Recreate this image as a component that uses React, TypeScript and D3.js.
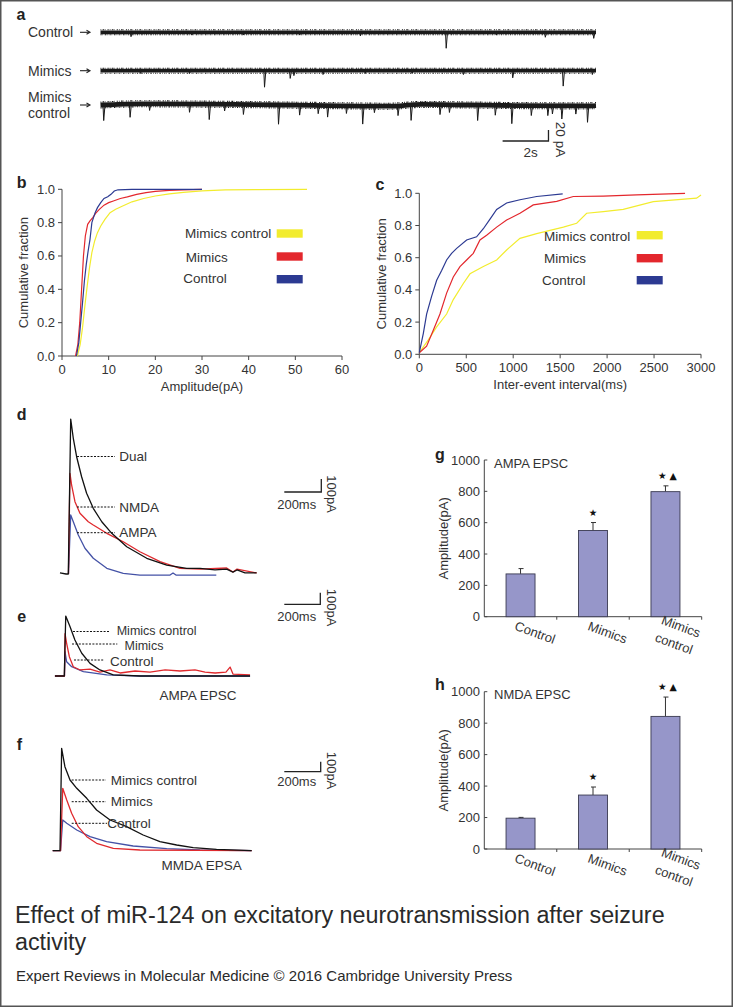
import React from 'react';
import * as d3 from 'd3';

const FONT = '"Liberation Sans", Arial, Helvetica, sans-serif';
const TXT = '#333';
const AX = '#444';
const C_YEL = '#f2ec2e';
const C_RED = '#e3272d';
const C_BLUE = '#2c3a92';
const T_RED = '#e02a2e';
const T_BLUE = '#4452a6';
const BAR = '#9696c9';

// ---------- Panel a : spontaneous EPSC traces ----------
const aGroups = ['Control', 'Mimics', 'Mimics control'];
const aDurationS = 21.6;
const ctrlEvT = [1.33, 3.98, 6.23, 8.68, 11.33, 15.07, 17.25, 19.39, 21.5];
const ctrlEvA = [8, 5, 5, 5, 6.6, 29, 5, 9, 11];
const mimEvT = [1.74, 3.88, 7.15, 8.27, 8.43, 9.7, 11.54, 13.58, 15.82, 17.97, 20.17, 21.44];
const mimEvA = [5, 5, 30, 14, 9, 7, 5, 5, 7, 13, 28, 7];
const mcEvT = [0.14, 1.29, 2.14, 3.88, 4.74, 5.41, 6.23, 7.76, 8.68, 9.49, 9.9, 10.72, 11.43, 11.94, 12.97, 13.54, 14.8, 15.21, 16.44, 17.21, 17.93, 18.78, 19.5, 19.7, 20.11, 20.72, 21.23];
const mcEvA = [28.5, 24, 12, 15, 28, 12, 18, 35, 18, 15, 21, 14, 33, 12, 18, 28, 18, 14, 28, 18, 33, 18, 18, 15, 24, 15, 30];
const mcDriftT = [0, 1.74, 4.8, 7.86, 9.9, 12.56, 13.99, 16.03, 18.07, 21.13, 21.6];
const mcDriftA = [0, 2.2, 1.5, 0, -1, -2.2, 1, 0, -1, -1.6, -1];

// ---------- Panel b : amplitude CDF ----------
const bCtrlX = [3.1, 3.6, 4.0, 4.4, 4.8, 5.2, 5.6, 6.0, 6.4, 7.1, 7.6, 8.3, 9.0, 9.8, 10.5, 11.2, 12, 15, 30];
const bCtrlY = [0, 0.08, 0.2, 0.32, 0.45, 0.55, 0.63, 0.7, 0.8, 0.86, 0.89, 0.92, 0.945, 0.955, 0.97, 0.99, 0.997, 1, 1];
const bMimX = [2.9, 3.4, 3.8, 4.2, 4.6, 5.0, 5.5, 6.0, 6.6, 7.2, 8, 9, 10, 11, 12.5, 14, 16, 18, 20, 23, 26, 30];
const bMimY = [0, 0.07, 0.2, 0.4, 0.6, 0.72, 0.79, 0.81, 0.83, 0.855, 0.88, 0.905, 0.92, 0.93, 0.945, 0.955, 0.97, 0.98, 0.988, 0.994, 0.997, 1.0];
const bMcX = [3.3, 3.9, 4.4, 4.9, 5.4, 5.9, 6.4, 7.0, 7.6, 8.3, 9.2, 10.3, 11.5, 13, 15, 17.5, 20, 23, 26, 30, 35, 42, 52.5];
const bMcY = [0, 0.07, 0.17, 0.3, 0.42, 0.53, 0.62, 0.69, 0.74, 0.78, 0.82, 0.86, 0.88, 0.9, 0.925, 0.945, 0.96, 0.972, 0.982, 0.99, 0.996, 0.998, 1.0];
const bXTicks = [0, 10, 20, 30, 40, 50, 60];
const fracTicks = [0, 0.2, 0.4, 0.6, 0.8, 1.0];

// ---------- Panel c : inter-event interval CDF ----------
const cCtrlX = [0, 43, 78, 131, 185, 238, 291, 344, 398, 504, 610, 682, 753, 824, 930, 1072, 1250, 1527];
const cCtrlY = [0.01, 0.13, 0.25, 0.36, 0.46, 0.52, 0.586, 0.627, 0.658, 0.71, 0.73, 0.78, 0.84, 0.9, 0.94, 0.96, 0.98, 0.996];
const cMimX = [0, 78, 149, 220, 291, 362, 433, 504, 575, 646, 717, 824, 930, 1072, 1214, 1463, 1640, 1960, 2314, 2830];
const cMimY = [0.01, 0.05, 0.15, 0.25, 0.38, 0.48, 0.545, 0.586, 0.627, 0.71, 0.74, 0.79, 0.834, 0.876, 0.928, 0.95, 0.98, 0.983, 0.99, 1.0];
const cMcX = [0, 96, 185, 291, 362, 469, 540, 682, 824, 930, 1072, 1250, 1534, 1676, 1782, 1960, 2172, 2492, 2953, 3000];
const cMcY = [0.01, 0.09, 0.17, 0.25, 0.34, 0.44, 0.5, 0.545, 0.586, 0.648, 0.72, 0.75, 0.79, 0.814, 0.876, 0.886, 0.9, 0.948, 0.97, 0.99];
const cXTicks = [0, 500, 1000, 1500, 2000, 2500, 3000];

// ---------- Panel d : evoked EPSCs (ms, pA) ----------
const dDualT = [-45, -12, 0, 13, 27, 45, 72, 99, 135, 181, 235, 316, 424, 532, 640, 712, 793, 856, 890, 912, 955, 1018];
const dDualI = [8, 0, 0, 1192, 1044, 902, 748, 621, 505, 402, 313, 210, 121, 69, 44, 44, 31, 38, 15, 31, 8, 8];
const dNmdaT = [1, 9, 18, 36, 63, 108, 135, 208, 297, 387, 496, 604, 712, 856, 890, 912, 1018];
const dNmdaI = [0, 774, 684, 556, 467, 402, 377, 313, 248, 171, 95, 44, 38, 46, 15, 38, 8];
const dAmpaT = [1, 13, 27, 54, 90, 135, 208, 297, 387, 550, 566, 582, 800];
const dAmpaI = [0, 454, 402, 300, 198, 121, 44, 5, -8, -8, 8, -8, -8];

// ---------- Panel e : AMPA EPSC ----------
const eMcT = [-52, 0, 8, 32, 59, 97, 143, 198, 272, 421, 1032];
const eMcI = [0, 0, 517, 425, 310, 196, 109, 52, 9, 0, 0];
const eMimT = [-52, 1, 4, 13, 28, 50, 87, 143, 198, 254, 310, 393, 476, 560, 643, 726, 782, 838, 898, 921, 937, 1032];
const eMimI = [0, 0, 365, 282, 166, 80, 52, 60, 34, 52, 26, 43, 34, 52, 43, 52, 34, 26, 34, 77, 17, 9];
const eCtrlT = [-52, 1, 4, 13, 41, 106, 236, 421, 1032];
const eCtrlI = [0, 0, 209, 123, 80, 37, 9, 0, 0];

// ---------- Panel f : NMDA EPSC ----------
const fMcT = [-40, 0, 9, 27, 55, 92, 147, 201, 275, 366, 457, 549, 641, 732, 860, 1053];
const fMcI = [0, 0, 1024, 840, 707, 624, 524, 407, 307, 240, 157, 90, 57, 30, 14, 0];
const fMimT = [-40, 3, 15, 37, 64, 100, 147, 201, 293, 439, 1053];
const fMimI = [0, 0, 624, 507, 374, 240, 140, 74, 24, 7, 0];
const fCtrlT = [-40, 3, 15, 37, 92, 165, 256, 402, 586, 769, 1053];
const fCtrlI = [0, 0, 307, 274, 207, 140, 90, 47, 20, 7, 0];

// ---------- Panels g, h : bar charts ----------
const barGroups = ['Control', 'Mimics', 'Mimics control'];
const ampaMean = [273, 550, 798];
const ampaErr = [34, 51, 37];
const nmdaMean = [196, 343, 843];
const nmdaErr = [5, 51, 123];
const ampTicks = [0, 200, 400, 600, 800, 1000];
const ampaMarks = ['', '★', '★ ▲'];
const nmdaMarks = ['', '★', '★ ▲'];

function linePath(xs: number[], ys: number[], sx: (v: number) => number, sy: (v: number) => number) {
  const idx = d3.range(xs.length);
  return d3.line<number>().x(i => sx(xs[i])).y(i => sy(ys[i]))(idx) || '';
}

function Txt(props: any) {
  const { children, ...rest } = props;
  return <text fontFamily={FONT} fill={TXT} {...rest}>{children}</text>;
}

function PanelLabel({ x, y, t }: { x: number; y: number; t: string }) {
  return <text x={x} y={y} fontFamily={FONT} fontWeight="bold" fontSize={16} fill="#222" textAnchor="middle">{t}</text>;
}

function TracesA() {
  const sx = d3.scaleLinear().domain([0, aDurationS]).range([100.5, 596]);
  const amp = d3.scaleLinear().domain([0, 20]).range([0, 11]);
  const bases = [32.3, 70.7, 105];
  const evT = [ctrlEvT, mimEvT, mcEvT];
  const evA = [ctrlEvA, mimEvA, mcEvA];
  const drift = d3.scaleLinear().domain(mcDriftT).range(mcDriftA);
  const widths = [3.8, 3.8, 4.8];
  return (
    <g>
      <PanelLabel x={21} y={20} t="a" />
      {aGroups.map((g, r) => {
        const base = bases[r];
        const off = (t: number) => (r === 2 ? -amp(drift(t)) : 0);
        const ts = r === 2 ? mcDriftT : [0, aDurationS];
        const mk = (dy: number) => d3.line<number>().x(t => sx(t)).y(t => base + off(t) + dy).curve(d3.curveMonotoneX)(ts) || '';
        return (
          <g key={g}>
            {r < 2 ? (
              <Txt x={28} y={base + 4.8} fontSize={14}>{g}</Txt>
            ) : (
              <g>
                <Txt x={28} y={base - 8 + 4.8} fontSize={14}>Mimics</Txt>
                <Txt x={28} y={base + 8 + 4.8} fontSize={14}>control</Txt>
              </g>
            )}
            <line x1={80} x2={89} y1={base} y2={base} stroke="#222" strokeWidth={1.1} />
            <path d={`M${86.5},${base - 2} L${90},${base} L${86.5},${base + 2}`} fill="none" stroke="#222" strokeWidth={1.1} />
            <path d={mk(0)} fill="none" stroke="#1a1a1a" strokeWidth={widths[r]} />
            <path d={mk(-widths[r] / 2 - 0.6)} fill="none" stroke="#1a1a1a" strokeWidth={1.1} strokeDasharray="0.8 1.3 1.7 0.7 0.5 2 1.2 1" />
            <path d={mk(widths[r] / 2 + 0.6)} fill="none" stroke="#1a1a1a" strokeWidth={1.1} strokeDasharray="1.1 0.9 0.6 1.7 1.5 1.2 0.7 1.4" />
            {evT[r].map((t, i) => {
              const x = sx(t);
              const y0 = base + off(t);
              const y1 = y0 + amp(evA[r][i]);
              return <path key={i} d={`M${x - 0.7},${y0} L${x},${y1} L${x + 1.3},${y0}`} fill="none" stroke="#1a1a1a" strokeWidth={1} />;
            })}
          </g>
        );
      })}
      {(() => {
        const x0 = 502.6;
        const x1 = x0 + (sx(2) - sx(0));
        const yb = 141;
        const yt = yb - amp(20);
        return (
          <g>
            <path d={`M${x0},${yb} H${x1} V${yt}`} fill="none" stroke="#222" strokeWidth={1.3} />
            <Txt x={530.6} y={156.5} fontSize={13.5} textAnchor="middle">2s</Txt>
            <Txt transform={`translate(556,139.5) rotate(90)`} fontSize={13.5} textAnchor="middle">20 pA</Txt>
          </g>
        );
      })()}
    </g>
  );
}

function CdfPanel(props: {
  label: string; lx: number; ly: number;
  x0: number; x1: number; yTop: number; yBot: number; xMax: number; xTicks: number[];
  series: { xs: number[]; ys: number[]; color: string }[];
  xTitle: string; yTitleX: number; legX: number[]; legY: number[]; swX: number; swY: number[];
}) {
  const sx = d3.scaleLinear().domain([0, props.xMax]).range([props.x0, props.x1]);
  const sy = d3.scaleLinear().domain([0, 1]).range([props.yBot, props.yTop]);
  const legNames = ['Mimics control', 'Mimics', 'Control'];
  const legColors = [C_YEL, C_RED, C_BLUE];
  return (
    <g>
      <PanelLabel x={props.lx} y={props.ly} t={props.label} />
      <path d={`M${props.x0},${props.yTop} V${props.yBot} H${props.x1}`} fill="none" stroke={AX} strokeWidth={1} />
      {fracTicks.map(v => (
        <g key={v}>
          <line x1={props.x0 - 4} x2={props.x0} y1={sy(v)} y2={sy(v)} stroke={AX} />
          <Txt x={props.x0 - 7} y={sy(v) + 4.5} fontSize={13} textAnchor="end">{v.toFixed(1)}</Txt>
        </g>
      ))}
      {props.xTicks.map(v => (
        <g key={v}>
          <line x1={sx(v)} x2={sx(v)} y1={props.yBot} y2={props.yBot + 4} stroke={AX} />
          <Txt x={sx(v)} y={props.yBot + 18} fontSize={13} textAnchor="middle">{v}</Txt>
        </g>
      ))}
      <Txt x={(props.x0 + props.x1) / 2} y={props.yBot + 35} fontSize={13} textAnchor="middle">{props.xTitle}</Txt>
      <Txt transform={`translate(${props.yTitleX},${(props.yTop + props.yBot) / 2}) rotate(-90)`} fontSize={13} textAnchor="middle" dy="0.35em">Cumulative fraction</Txt>
      {props.series.map((s, i) => (
        <path key={i} d={linePath(s.xs, s.ys, sx, sy)} fill="none" stroke={s.color} strokeWidth={1.2} />
      ))}
      {legNames.map((n, i) => (
        <g key={n}>
          <Txt x={props.legX[i]} y={props.legY[i]} fontSize={13.5}>{n}</Txt>
          <rect x={props.swX} y={props.swY[i]} width={26} height={8.4} fill={legColors[i]} />
        </g>
      ))}
    </g>
  );
}

function ScaleBar({ x0, yb, sx, sy, textY, rotY }: any) {
  const x1 = x0 + (sx(200) - sx(0));
  const yt = yb - (sy(0) - sy(100));
  return (
    <g>
      <path d={`M${x0},${yb} H${x1} V${yt}`} fill="none" stroke="#222" strokeWidth={1.3} />
      <Txt x={296.7} y={textY} fontSize={13} textAnchor="middle">200ms</Txt>
      <Txt transform={`translate(327,${rotY}) rotate(90)`} fontSize={13} textAnchor="middle">100pA</Txt>
    </g>
  );
}

function Dash({ x1, x2, y, label, lx, fs, ly }: any) {
  return (
    <g>
      <line x1={x1} x2={x2} y1={y} y2={y} stroke="#111" strokeWidth={1} strokeDasharray="2 1.4" />
      <Txt x={lx} y={(ly ?? y) + 4.5} fontSize={fs || 13.5}>{label}</Txt>
    </g>
  );
}

function EpscPanel(props: any) {
  const { onsetX, baseY, pxPer200, pxPer100, series, dashes, label, lx, ly, bar, sub } = props;
  const sx = d3.scaleLinear().domain([0, 200]).range([onsetX, onsetX + pxPer200]);
  const sy = d3.scaleLinear().domain([0, 100]).range([baseY, baseY - pxPer100]);
  return (
    <g>
      <PanelLabel x={lx} y={ly} t={label} />
      {series.map((s: any, i: number) => (
        <path key={i} d={linePath(s.t, s.i, sx, sy)} fill="none" stroke={s.color} strokeWidth={1.3} strokeLinejoin="round" />
      ))}
      {dashes.map((d: any, i: number) => <Dash key={i} {...d} />)}
      <ScaleBar x0={284.3} yb={bar.yb} sx={sx} sy={sy} textY={bar.textY} rotY={bar.rotY} />
      {sub && <Txt x={sub.x} y={sub.y} fontSize={13.5} textAnchor="middle">{sub.text}</Txt>}
    </g>
  );
}

function BarPanel(props: any) {
  const { yTop, yBot, mean, err, marks, title, label, ly, labelOffset } = props;
  const x0 = 484.3, x1 = 701.7;
  const sx = d3.scaleBand<string>().domain(barGroups).range([x0, x1]).paddingInner(0.6).paddingOuter(0.3);
  const sy = d3.scaleLinear().domain([0, 1000]).range([yBot, yTop]);
  const step = sx.step();
  return (
    <g>
      <PanelLabel x={440} y={ly} t={label} />
      <path d={`M${x0},${yTop} V${yBot} H${x1}`} fill="none" stroke={AX} strokeWidth={1} />
      {ampTicks.map(v => (
        <g key={v}>
          <line x1={x0} x2={x0 + 3} y1={sy(v)} y2={sy(v)} stroke={AX} />
          <Txt x={480} y={sy(v) + 4.6} fontSize={13} textAnchor="end">{v}</Txt>
        </g>
      ))}
      {[1, 2, 3].map(k => (
        <line key={k} x1={x0 + k * step} x2={x0 + k * step} y1={yBot} y2={yBot + 3} stroke={AX} />
      ))}
      <Txt transform={`translate(443.3,${(yTop + yBot) / 2}) rotate(-90)`} fontSize={13} textAnchor="middle" dy="0.35em">Amplitude(pA)</Txt>
      <Txt x={494} y={yTop + 7.5} fontSize={13}>{title}</Txt>
      {barGroups.map((g, i) => {
        const bx = sx(g) as number;
        const bw = sx.bandwidth();
        const cx = bx + bw / 2;
        const top = sy(mean[i]);
        const et = sy(mean[i] + err[i]);
        return (
          <g key={g}>
            <line x1={cx} x2={cx} y1={top} y2={et} stroke="#333" strokeWidth={1} />
            <line x1={cx - 2} x2={cx + 3} y1={et} y2={et} stroke="#333" strokeWidth={1} />
            <rect x={bx} y={top} width={bw} height={yBot - top} fill={BAR} stroke="#3a3a50" strokeWidth={0.9} />
            {marks[i] && (
              <text x={cx + (marks[i].length > 1 ? 2 : 0)} y={et - 7} fontFamily='"DejaVu Sans", sans-serif' fontSize={9.5} fill="#111" textAnchor="middle">{marks[i]}</text>
            )}
          </g>
        );
      })}
      {barGroups.map((g, i) => {
        const cx = (sx(g) as number) + sx.bandwidth() / 2;
        const ly0 = yBot + labelOffset;
        if (g === 'Mimics control') {
          return (
            <g key={g}>
              <Txt transform={`translate(${cx + 14},${ly0 - 4}) rotate(20)`} fontSize={13} textAnchor="middle">Mimics</Txt>
              <Txt transform={`translate(${cx + 7},${ly0 + 13}) rotate(20)`} fontSize={13} textAnchor="middle">control</Txt>
            </g>
          );
        }
        return <Txt key={g} transform={`translate(${cx + 13},${ly0 + 2}) rotate(20)`} fontSize={13} textAnchor="middle">{g}</Txt>;
      })}
    </g>
  );
}

export default function App() {
  return (
    <svg width={733} height={1007} style={{ position: 'absolute', left: 0, top: 0, background: '#fff' }} xmlns="http://www.w3.org/2000/svg">
      <rect x={0} y={0} width={733} height={1007} fill="#fff" />
      <rect x={0.75} y={0.75} width={731.5} height={1005.5} fill="none" stroke="#555" strokeWidth={1.5} />
      <TracesA />
      <CdfPanel label="b" lx={21.7} ly={188} x0={62} x1={342} yTop={189.3} yBot={356} xMax={60} xTicks={bXTicks}
        series={[{ xs: bMcX, ys: bMcY, color: C_YEL }, { xs: bMimX, ys: bMimY, color: C_RED }, { xs: bCtrlX, ys: bCtrlY, color: C_BLUE }]}
        xTitle="Amplitude(pA)" yTitleX={23.3} legX={[185, 185.7, 183.3]} legY={[237.8, 261.5, 283.2]} swX={276.7} swY={[229.3, 252.3, 275]} />
      <CdfPanel label="c" lx={380} ly={190} x0={419.3} x1={701} yTop={193.3} yBot={354.3} xMax={3000} xTicks={cXTicks}
        series={[{ xs: cMcX, ys: cMcY, color: C_YEL }, { xs: cMimX, ys: cMimY, color: C_RED }, { xs: cCtrlX, ys: cCtrlY, color: C_BLUE }]}
        xTitle="Inter-event interval(ms)" yTitleX={381.7} legX={[544, 544, 542]} legY={[240.5, 262.5, 284.8]} swX={636.7} swY={[231, 254, 276]} />
      <EpscPanel label="d" lx={21.7} ly={420} onsetX={68.3} baseY={574} pxPer200={37} pxPer100={13}
        series={[{ t: dAmpaT, i: dAmpaI, color: T_BLUE }, { t: dNmdaT, i: dNmdaI, color: T_RED }, { t: dDualT, i: dDualI, color: '#111' }]}
        dashes={[{ x1: 77, x2: 115, y: 456.5, label: 'Dual', lx: 119.3 }, { x1: 77, x2: 115, y: 507, label: 'NMDA', lx: 119.3 }, { x1: 77, x2: 115, y: 532.7, label: 'AMPA', lx: 119.3 }]}
        bar={{ yb: 492, textY: 508.5, rotY: 494 }} />
      <EpscPanel label="e" lx={21.7} ly={621.5} onsetX={64.3} baseY={676} pxPer200={36} pxPer100={11.6}
        series={[{ t: eCtrlT, i: eCtrlI, color: T_BLUE }, { t: eMimT, i: eMimI, color: T_RED }, { t: eMcT, i: eMcI, color: '#111' }]}
        dashes={[{ x1: 73, x2: 109, y: 631.5, ly: 630, label: 'Mimics control', lx: 116.7, fs: 12.5 }, { x1: 72, x2: 117.3, y: 644, ly: 645.5, label: 'Mimics', lx: 124.5, fs: 12.5 }, { x1: 74, x2: 103.3, y: 660, ly: 661, label: 'Control', lx: 110 }]}
        bar={{ yb: 604.3, textY: 620.5, rotY: 607.5 }} sub={{ x: 198, y: 699.5, text: 'AMPA EPSC' }} />
      <EpscPanel label="f" lx={19.3} ly={750} onsetX={60} baseY={850.7} pxPer200={36.4} pxPer100={10}
        series={[{ t: fCtrlT, i: fCtrlI, color: T_BLUE }, { t: fMimT, i: fMimI, color: T_RED }, { t: fMcT, i: fMcI, color: '#111' }]}
        dashes={[{ x1: 71.7, x2: 106, y: 780, label: 'Mimics control', lx: 110.7 }, { x1: 71.7, x2: 106, y: 801.7, label: 'Mimics', lx: 110.7 }, { x1: 71.7, x2: 107, y: 823.3, label: 'Control', lx: 107.3 }]}
        bar={{ yb: 771.7, textY: 785.5, rotY: 770.5 }} sub={{ x: 201.7, y: 870, text: 'MMDA EPSA' }} />
      <BarPanel label="g" ly={460} yTop={460} yBot={616.7} mean={ampaMean} err={ampaErr} marks={ampaMarks} title="AMPA EPSC" labelOffset={18} />
      <BarPanel label="h" ly={690} yTop={691.7} yBot={849} mean={nmdaMean} err={nmdaErr} marks={nmdaMarks} title="NMDA EPSC" labelOffset={18} />
      <Txt x={15} y={923} fontSize={23.3} fill="#2a2a2a">Effect of miR-124 on excitatory neurotransmission after seizure</Txt>
      <Txt x={15} y={950} fontSize={23.3} fill="#2a2a2a">activity</Txt>
      <Txt x={16} y={981} fontSize={15} fill="#2a2a2a">Expert Reviews in Molecular Medicine © 2016 Cambridge University Press</Txt>
    </svg>
  );
}
